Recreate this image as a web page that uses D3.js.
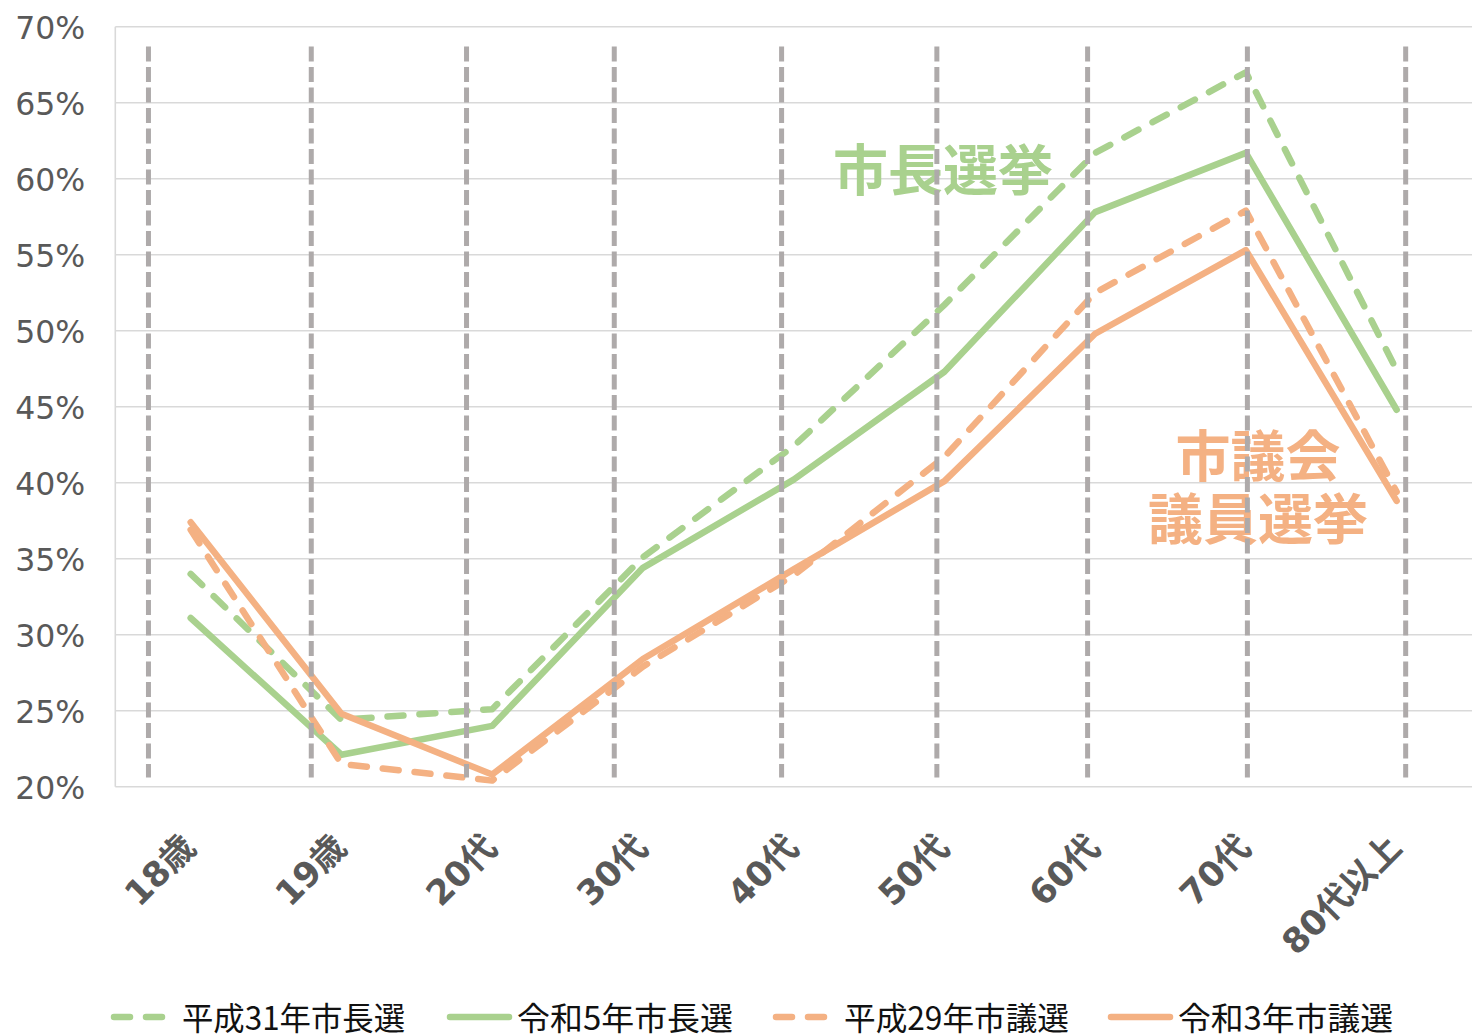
<!DOCTYPE html>
<html><head><meta charset="utf-8">
<script src="https://cdn.jsdelivr.net/npm/d3@7"></script>
<style>
html,body{margin:0;padding:0;background:#fff;}
svg{display:block;}
</style></head>
<body>
<svg id="chart" width="1472" height="1034"></svg>
<script>
// Turnout by age group (%)
const categories = ["18歳","19歳","20代","30代","40代","50代","60代","70代","80代以上"];
const mayorH31   = [34.0, 24.4, 25.1, 35.1, 42.4, 51.7, 61.7, 67.0, 47.4];
const mayorR5    = [31.1, 22.1, 24.0, 34.4, 40.2, 47.3, 57.8, 61.7, 44.8];
const councilH29 = [36.9, 21.5, 20.4, 27.9, 33.9, 41.7, 52.5, 57.9, 39.4];
const councilR3  = [37.4, 24.8, 20.8, 28.4, 34.3, 40.1, 49.8, 55.3, 38.8];
const seriesNames = ["平成31年市長選", "令和5年市長選", "平成29年市議選", "令和3年市議選"];
const yTicks = [20, 25, 30, 35, 40, 45, 50, 55, 60, 65, 70];
// vertical guide lines, in category-index units, and their value span
const guidePositions = [-0.28, 0.80, 1.83, 2.81, 3.92, 4.95, 5.95, 7.01, 8.06];
const guideSpan = [20.6, 68.7];
// in-chart group captions
const mayorCaption = ["市長選挙"];
const councilCaption = ["市議会", "議員選挙"];

const GREEN = "#a9d18e", ORANGE = "#f4b183";
const series = [
  {name: seriesNames[0], values: mayorH31,   color: GREEN,  dashed: true},
  {name: seriesNames[1], values: mayorR5,    color: GREEN,  dashed: false},
  {name: seriesNames[2], values: councilH29, color: ORANGE, dashed: true},
  {name: seriesNames[3], values: councilR3,  color: ORANGE, dashed: false}
];

const svg = d3.select("#chart");
const plot = {left: 115.3, right: 1472, top: 26.7, bottom: 786.7};

const x = d3.scaleBand().domain(categories).range([plot.left, plot.right]).padding(0);
const cx = c => x(c) + x.bandwidth() / 2;
const xi = d3.scaleLinear().domain([0, categories.length - 1])
  .range([cx(categories[0]), cx(categories[categories.length - 1])]);
const y = d3.scaleLinear().domain([20, 70]).range([plot.bottom, plot.top]);

// horizontal gridlines
svg.append("g").selectAll("line").data(yTicks).join("line")
  .attr("x1", plot.left).attr("x2", plot.right)
  .attr("y1", d => y(d)).attr("y2", d => y(d))
  .attr("stroke", "#d9d9d9").attr("stroke-width", 1.6);

// left axis line
svg.append("line")
  .attr("x1", plot.left).attr("x2", plot.left)
  .attr("y1", y(70)).attr("y2", y(20))
  .attr("stroke", "#d9d9d9").attr("stroke-width", 1.6);

// y axis labels
const yAxis = d3.axisLeft(y).tickValues(yTicks).tickSize(0).tickPadding(0)
  .tickFormat(d => d + "%");
const gy = svg.append("g").attr("transform", `translate(${plot.left - 30},0)`).call(yAxis);
gy.select(".domain").remove();
gy.selectAll("text")
  .attr("fill", "#595959")
  .attr("font-family", "'DejaVu Sans', Verdana, sans-serif")
  .attr("font-size", 31.5)
  .attr("dy", "0.36em");

// x axis labels, rotated
const xAxis = d3.axisBottom(x).tickSize(0).tickPadding(0);
const gx = svg.append("g").attr("transform", `translate(0,${plot.bottom})`).call(xAxis);
gx.select(".domain").remove();
gx.selectAll(".tick text")
  .attr("fill", "#595959")
  .attr("font-family", "'DejaVu Sans', 'Noto Sans CJK JP', sans-serif")
  .attr("font-weight", "bold")
  .attr("font-size", 34.5)
  .attr("text-anchor", "end")
  .attr("dy", 0).attr("y", 0)
  .attr("transform", "translate(7,63) rotate(-45)");

// series lines
const line = d3.line().x((d, i) => xi(i)).y(d => y(d));
svg.append("g").selectAll("path").data(series).join("path")
  .attr("d", s => line(s.values))
  .attr("fill", "none")
  .attr("stroke", s => s.color)
  .attr("stroke-width", 6.5)
  .attr("stroke-linejoin", "round")
  .attr("stroke-linecap", "round")
  .attr("stroke-dasharray", s => s.dashed ? "16 16" : null);

// group captions
const capFont = "'Noto Sans CJK JP', sans-serif";
svg.append("g").selectAll("text").data(mayorCaption).join("text")
  .attr("x", xi(4.99))
  .attr("y", 190)
  .attr("text-anchor", "middle")
  .attr("font-family", capFont).attr("font-weight", "bold")
  .attr("font-size", 55).attr("fill", GREEN)
  .text(d => d);

svg.append("g").selectAll("text").data(councilCaption).join("text")
  .attr("x", xi(7.08))
  .attr("y", (d, i) => 476 + i * 63)
  .attr("text-anchor", "middle")
  .attr("font-family", capFont).attr("font-weight", "bold")
  .attr("font-size", 55).attr("fill", ORANGE)
  .text(d => d);

// vertical dashed guides
svg.append("g").selectAll("line").data(guidePositions).join("line")
  .attr("x1", d => xi(d)).attr("x2", d => xi(d))
  .attr("y1", y(guideSpan[1])).attr("y2", y(guideSpan[0]))
  .attr("stroke", "#aeaaaa").attr("stroke-width", 5)
  .attr("stroke-dasharray", "15 5.5");

// legend
const legendStart = [111, 447, 773, 1108];
const legendTextWidth = [223, 216, 225, 215];
const legendY = 1017;
const lg = svg.append("g").selectAll("g").data(series).join("g")
  .attr("transform", (s, i) => `translate(${legendStart[i]},${legendY})`);
lg.append("line")
  .attr("x1", 3).attr("x2", s => s.dashed ? 51 : 62)
  .attr("y1", 0).attr("y2", 0)
  .attr("stroke", s => s.color).attr("stroke-width", 6.5)
  .attr("stroke-linecap", "round")
  .attr("stroke-dasharray", s => s.dashed ? "16 16" : null);
lg.append("text")
  .attr("x", s => s.dashed ? 71 : 70)
  .attr("y", 12.5)
  .attr("font-family", "'Noto Sans CJK JP', sans-serif")
  .attr("font-size", 32)
  .attr("fill", "#111")
  .attr("textLength", (s, i) => legendTextWidth[i])
  .attr("lengthAdjust", "spacingAndGlyphs")
  .text(s => s.name);
</script>
</body></html>
